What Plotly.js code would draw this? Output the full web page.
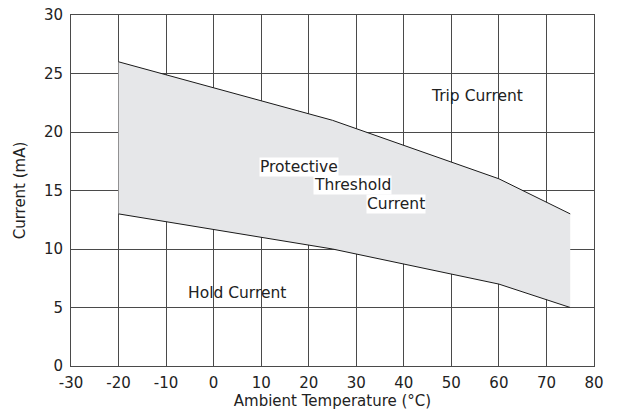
<!DOCTYPE html>
<html><head><meta charset="utf-8">
<script src="https://cdn.plot.ly/plotly-3.0.1.min.js"></script>
<style>html,body{margin:0;padding:0;background:#fff}</style>
</head><body>
<div id="chart" style="width:621px;height:414px"></div>
<script>
const temps = [-20, 25, 60, 75];
const holdCurrent = [13, 10, 7, 5];
const tripCurrent = [26, 21, 16, 13];
const xTicks = [-30, -20, -10, 0, 10, 20, 30, 40, 50, 60, 70, 80];
const yTicks = [0, 5, 10, 15, 20, 25, 30];
const labels = [
  {text: 'Trip Current', x: 55.4, y: 23.1, bg: false},
  {text: 'Protective', x: 18.0, y: 17.05, bg: true},
  {text: 'Threshold', x: 29.3, y: 15.5, bg: true},
  {text: 'Current', x: 38.3, y: 13.85, bg: true},
  {text: 'Hold Current', x: 4.85, y: 6.24, bg: false}
];
const font = "'DejaVu Sans', sans-serif";
const data = [
  {x: temps, y: holdCurrent, mode: 'lines', line: {color: '#1a1a1a', width: 1}, showlegend: false, hoverinfo: 'skip'},
  {x: temps, y: tripCurrent, mode: 'lines', fill: 'tonexty', fillcolor: '#e6e7e9', line: {color: '#1a1a1a', width: 1}, showlegend: false, hoverinfo: 'skip'}
];
const layout = {
  width: 621, height: 414,
  margin: {l: 71, r: 27, t: 15, b: 48},
  paper_bgcolor: '#fff', plot_bgcolor: '#fff',
  font: {family: font, size: 15, color: '#222'},
  xaxis: {range: [-30, 80], tickvals: xTicks, ticktext: xTicks.map(String), showgrid: true, gridcolor: '#4a4a4a', gridwidth: 1,
    zeroline: false, showline: true, linecolor: '#4a4a4a', linewidth: 1, mirror: true, ticks: '', ticklen: 0,
    ticklabelstandoff: 3,
    tickfont: {size: 15}, title: {text: 'Ambient Temperature (°C)', font: {size: 15}, standoff: 4}, layer: 'above traces'},
  yaxis: {range: [0, 30], tickvals: yTicks, showgrid: true, gridcolor: '#4a4a4a', gridwidth: 1,
    zeroline: false, showline: true, linecolor: '#4a4a4a', linewidth: 1, mirror: true, ticks: '', ticklen: 0,
    ticklabelstandoff: 4,
    tickfont: {size: 15}, title: {text: 'Current (mA)', font: {size: 15}, standoff: 14}, layer: 'above traces'},
  annotations: labels.map(l => ({x: l.x, y: l.y, xref: 'x', yref: 'y', text: l.text, showarrow: false,
    font: {size: 15.5, color: '#222'}, bgcolor: l.bg ? '#fff' : 'rgba(0,0,0,0)', borderpad: 0}))
};
Plotly.newPlot('chart', data, layout, {displayModeBar: false, staticPlot: true});
</script>
</body></html>
